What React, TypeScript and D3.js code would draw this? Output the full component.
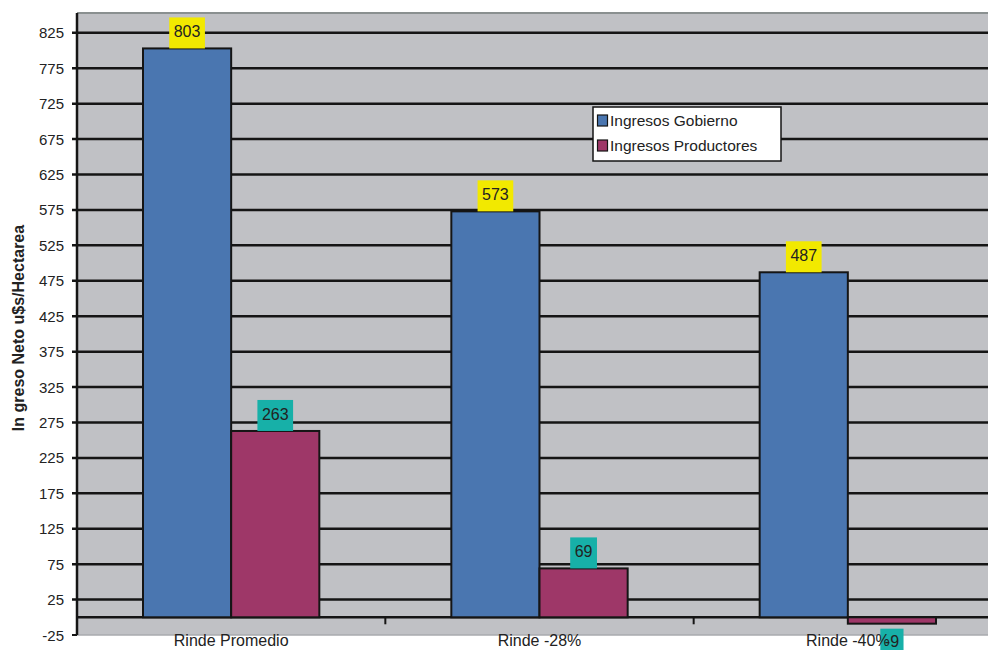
import React from "react";
import * as d3 from "d3";

const categories = ["Rinde Promedio", "Rinde -28%", "Rinde -40%"];
const seriesNames = ["Ingresos Gobierno", "Ingresos Productores"];
const gobierno = [803, 573, 487];
const productores = [263, 69, -9];
const yTicks = [-25, 25, 75, 125, 175, 225, 275, 325, 375, 425, 475, 525, 575, 625, 675, 725, 775, 825];

const W = 988, H = 650;
const left = 77, plotRight = 1002, top = 13, bottom = 635;
const colors = ["#4a76b0", "#9e3768"];
const labelColors = ["#f2e900", "#17b0a8"];

export default function App() {
  const y = d3.scaleLinear().domain([-25, 853]).range([bottom, top]);
  const x = d3.scaleBand().domain(categories).range([left, plotRight]).paddingInner(0).paddingOuter(0);
  const inner = d3.scaleBand().domain(seriesNames).range([66, x.bandwidth() - 66]).padding(0);
  const series = [gobierno, productores];
  const font = "Arial, 'Liberation Sans', sans-serif";
  const labelFs = 16;
  const textW = (s: string) =>
    s.split("").reduce((a, ch) => a + (ch === "-" ? 0.333 : 0.556), 0) * labelFs;

  return (
    <svg width={W} height={H} style={{ position: "absolute", left: 0, top: 0 }} fontFamily={font}>
      <rect x={0} y={0} width={W} height={H} fill="#fff" />
      <rect x={left} y={top} width={W - left} height={bottom - top} fill="#c0c1c5" />
      <line x1={left} x2={W} y1={top} y2={top} stroke="#8a9090" strokeWidth={2} />
      <line x1={left} x2={W} y1={bottom} y2={bottom} stroke="#a8aaae" strokeWidth={1.5} />
      {yTicks.map((t) => (
        <g key={t}>
          {t !== -25 && (
            <line x1={left - 5} x2={W} y1={y(t)} y2={y(t)} stroke="#151515" strokeWidth={2.5} />
          )}
          {t === -25 && <line x1={left - 5} x2={left} y1={y(t)} y2={y(t)} stroke="#151515" strokeWidth={2} />}
          <text x={64} y={y(t) + 5.5} textAnchor="end" fontSize={15} fill="#222">{t}</text>
        </g>
      ))}
      <line x1={left} x2={W} y1={y(0)} y2={y(0)} stroke="#151515" strokeWidth={2.5} />
      {categories.slice(1).map((c) => (
        <line key={c} x1={x(c)!} x2={x(c)!} y1={y(0)} y2={y(0) + 7} stroke="#151515" strokeWidth={2} />
      ))}
      <line x1={left} x2={left} y1={top} y2={bottom} stroke="#151515" strokeWidth={2.5} />
      {series.map((vals, si) =>
        vals.map((v, ci) => {
          const bx = x(categories[ci])! + inner(seriesNames[si])!;
          const bw = inner.bandwidth();
          const y0 = y(Math.max(0, v));
          const y1 = y(Math.min(0, v));
          return (
            <rect key={si + "-" + ci} x={bx} y={y0} width={bw} height={y1 - y0} fill={colors[si]} stroke="#151515" strokeWidth={2} />
          );
        })
      )}
      {series.map((vals, si) =>
        vals.map((v, ci) => {
          const cx = x(categories[ci])! + inner(seriesNames[si])! + inner.bandwidth() / 2;
          const s = String(v);
          const bw = textW(s) + 9;
          const by = v >= 0 ? y(v) - 31 : y(v) + 5;
          const bh = v >= 0 ? 31 : H - by;
          return (
            <g key={"l" + si + "-" + ci}>
              <rect x={cx - bw / 2} y={by} width={bw} height={bh} fill={labelColors[si]} />
              <text x={cx} y={v >= 0 ? by + 20 : by + 18} textAnchor="middle" fontSize={labelFs} fill="#222">{s}</text>
            </g>
          );
        })
      )}
      {categories.map((c) => (
        <text key={c} x={x(c)! + x.bandwidth() / 2} y={646} textAnchor="middle" fontSize={16} fill="#222">{c}</text>
      ))}
      <g>
        <rect x={593} y={107} width={188} height={54} fill="#fff" stroke="#151515" strokeWidth={1.5} />
        {seriesNames.map((n, i) => (
          <g key={n}>
            <rect x={597.5} y={115 + i * 25} width={10} height={11} fill={colors[i]} stroke="#151515" strokeWidth={1.2} />
            <text x={610} y={126 + i * 25} fontSize={15.5} fill="#222">{n}</text>
          </g>
        ))}
      </g>
      <text transform={`translate(24,${328}) rotate(-90)`} textAnchor="middle" fontSize={16} fontWeight="bold" fill="#222">In greso Neto u$s/Hectarea</text>
    </svg>
  );
}
